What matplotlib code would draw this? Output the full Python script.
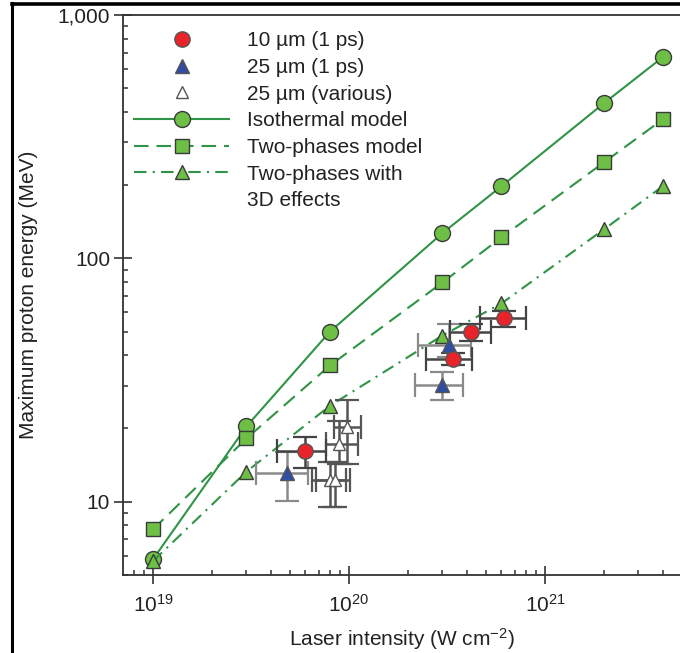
import matplotlib
matplotlib.use('Agg')
import matplotlib.pyplot as plt
import numpy as np
from matplotlib.lines import Line2D
from matplotlib.ticker import LogLocator, FuncFormatter, NullFormatter, LogFormatterSciNotation

plt.rcParams['font.family'] = ['Liberation Sans', 'DejaVu Sans']
plt.rcParams['mathtext.default'] = 'regular'

# ---- model curves ----
model_I = [1e19, 3e19, 8e19, 3e20, 6e20, 2e21, 4e21]
iso_E = [5.8, 20.4, 50, 127, 198, 434, 672]
two_E = [7.7, 18.2, 36.3, 79.6, 122, 248, 373]
three_E = [5.7, 13.3, 24.8, 48.2, 65.3, 131.6, 198]

# ---- 10 um (1 ps) ----
red_I = [6.0e19, 3.38e20, 4.18e20, 6.18e20]
red_I_lo = [4.28e19, 2.47e20, 3.27e20, 4.66e20]
red_I_hi = [7.64e19, 4.23e20, 5.28e20, 8.0e20]
red_E = [16.1, 38.6, 49.8, 57.0]
red_E_lo = [13.8, 36.3, 45.7, 52.0]
red_E_hi = [18.5, 41.0, 53.8, 61.0]

# ---- 25 um (1 ps) ----
blue_I = [4.8e19, 3.0e20, 3.25e20]
blue_I_lo = [3.35e19, 2.17e20, 2.25e20]
blue_I_hi = [6.2e19, 3.8e20, 4.18e20]
blue_E = [13.1, 30.2, 43.9]
blue_E_lo = [10.1, 26.2, 39.5]
blue_E_hi = [16.0, 34.0, 53.8]

# ---- 25 um (various) ----
open_I = [8.0e19, 8.5e19, 8.93e19, 9.8e19]
open_I_lo = [6.5e19, 6.8e19, 7.6e19, 8.35e19]
open_I_hi = [9.6e19, 1.01e20, 1.11e20, 1.15e20]
open_E = [12.3, 12.3, 17.3, 20.2]
open_E_lo = [9.5, 9.5, 14.3, 14.3]
open_E_hi = [14.5, 14.5, 21.5, 26.2]

legend_labels = ['10 \u00b5m (1 ps)', '25 \u00b5m (1 ps)', '25 \u00b5m (various)',
                 'Isothermal model', 'Two-phases model', 'Two-phases with', '3D effects']

GREEN_LINE = '#2f9445'
GREEN_FILL = '#6dbf45'
EDGE = '#3a3a3a'
RED = '#e8232a'
BLUE = '#2f4ea3'

fig = plt.figure(figsize=(6.8, 6.53), dpi=100)
ax = fig.add_axes([123/680, 78/653, 557/680, 560/653])
ax.set_xscale('log')
ax.set_yscale('log')
ax.set_xlim(10**18.847, 10**21.689)
ax.set_ylim(5.0, 1000)

lw = 1.5
ax.plot(model_I, iso_E, color=GREEN_LINE, lw=lw, ls='-', marker='o', ms=11.5,
        mfc=GREEN_FILL, mec=EDGE, mew=1.0, zorder=3, clip_on=False)
ax.plot(model_I, two_E, color=GREEN_LINE, lw=lw, ls=(0, (7, 3.8)), marker='s', ms=9.5,
        mfc=GREEN_FILL, mec=EDGE, mew=1.0, zorder=3, clip_on=False)
ax.plot(model_I, three_E, color=GREEN_LINE, lw=lw, ls=(0, (6, 3, 1, 3)), marker='^', ms=10.5,
        mfc=GREEN_FILL, mec=EDGE, mew=1.0, zorder=3, clip_on=False)


def eb(x, xlo, xhi, y, ylo, yhi, color):
    x = np.array(x); y = np.array(y)
    xerr = [x - np.array(xlo), np.array(xhi) - x]
    yerr = [y - np.array(ylo), np.array(yhi) - y]
    ax.errorbar(x, y, xerr=xerr, yerr=yerr, fmt='none', ecolor=color,
                elinewidth=1.8, capsize=8.5, capthick=1.6, zorder=4)


eb(open_I, open_I_lo, open_I_hi, open_E, open_E_lo, open_E_hi, '#555555')
eb(blue_I, blue_I_lo, blue_I_hi, blue_E, blue_E_lo, blue_E_hi, '#8a8a8a')
eb(red_I, red_I_lo, red_I_hi, red_E, red_E_lo, red_E_hi, '#444444')

ax.plot(open_I, open_E, ls='none', marker='^', ms=9, mfc='white', mec='#555555', mew=1.0, zorder=5)
ax.plot(blue_I, blue_E, ls='none', marker='^', ms=10, mfc=BLUE, mec='#555555', mew=1.0, zorder=5)
ax.plot(red_I, red_E, ls='none', marker='o', ms=11, mfc=RED, mec='#555555', mew=1.0, zorder=6)

# axes styling
for s in ['left', 'bottom', 'top']:
    ax.spines[s].set_color('#333333')
    ax.spines[s].set_linewidth(1.3)
ax.spines['right'].set_visible(False)

ax.xaxis.set_major_locator(LogLocator(base=10, numticks=10))
ax.xaxis.set_minor_locator(LogLocator(base=10, subs=np.arange(2, 10), numticks=30))
ax.xaxis.set_major_formatter(LogFormatterSciNotation())
ax.xaxis.set_minor_formatter(NullFormatter())
ax.yaxis.set_major_locator(LogLocator(base=10, numticks=10))
ax.yaxis.set_minor_locator(LogLocator(base=10, subs=np.arange(2, 10), numticks=30))
ax.yaxis.set_major_formatter(FuncFormatter(lambda v, p: '{:,.0f}'.format(v)))
ax.yaxis.set_minor_formatter(NullFormatter())

ax.tick_params(which='major', direction='inout', length=12.5, width=1.2, color='#333333',
               labelsize=15, pad=3, top=False, right=False, labelcolor='#222222')
ax.tick_params(axis='x', which='major', pad=7)
ax.tick_params(which='minor', direction='in', length=3.5, width=1.1, color='#333333',
               top=False, right=False)

ax.set_xlabel('Laser intensity (W cm$^{\u22122}$)', fontsize=15, color='#222222')
ax.set_ylabel('Maximum proton energy (MeV)', fontsize=15, color='#222222')
ax.xaxis.set_label_coords(0.5, -0.092)
ax.yaxis.set_label_coords(-0.152, 0.5)

handles = [
    Line2D([], [], ls='none', marker='o', ms=11, mfc=RED, mec='#555555'),
    Line2D([], [], ls='none', marker='^', ms=10, mfc=BLUE, mec='#555555'),
    Line2D([], [], ls='none', marker='^', ms=8, mfc='white', mec='#555555'),
    Line2D([], [], color=GREEN_LINE, lw=lw, ls='-', marker='o', ms=11.5, mfc=GREEN_FILL, mec=EDGE),
    Line2D([], [], color=GREEN_LINE, lw=lw, ls=(0, (7, 3.8)), marker='s', ms=9.5, mfc=GREEN_FILL, mec=EDGE),
    Line2D([], [], color=GREEN_LINE, lw=lw, ls=(0, (6, 3, 1, 3)), marker='^', ms=10.5, mfc=GREEN_FILL, mec=EDGE),
    Line2D([], [], ls='none'),
]
leg = ax.legend(handles, legend_labels, loc='upper left', bbox_to_anchor=(0.02, 0.971),
                frameon=False, fontsize=15, handlelength=4.56, handletextpad=0.85,
                labelspacing=0.37, borderpad=0, borderaxespad=0)
for t in leg.get_texts():
    t.set_color('#222222')

# figure border lines
fig.add_artist(Line2D([12/680, 12/680], [0, 1 - 3/653], transform=fig.transFigure, color='black', lw=2.2))
fig.add_artist(Line2D([12/680, 1], [1 - 4/653, 1 - 4/653], transform=fig.transFigure, color='black', lw=2.6))

fig.savefig('out.png', dpi=100)
